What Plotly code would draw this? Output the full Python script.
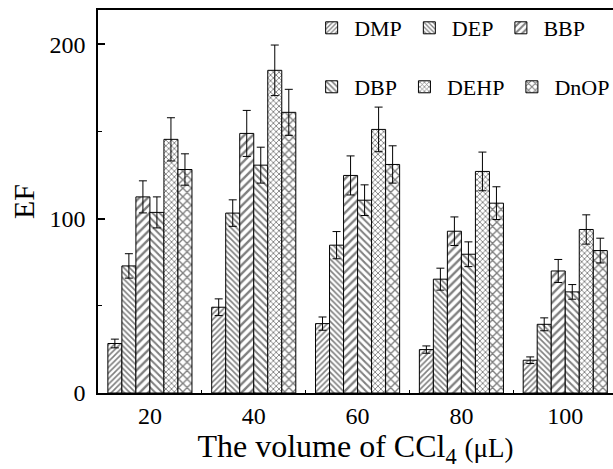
import plotly.graph_objects as go

categories = ["20", "40", "60", "80", "100"]
series_names = ["DMP", "DEP", "BBP", "DBP", "DEHP", "DnOP"]

dmp = [28.4, 49.2, 39.8, 24.9, 18.8]
dmp_err = [2.5, 4.8, 3.8, 2.1, 1.9]
dep = [72.9, 103.2, 84.8, 65.3, 39.4]
dep_err = [7.0, 7.6, 7.8, 6.3, 3.7]
bbp = [112.5, 148.9, 124.8, 92.8, 70.0]
bbp_err = [9.2, 13.2, 11.2, 8.2, 6.6]
dbp = [103.6, 130.7, 110.6, 79.6, 58.0]
dbp_err = [8.9, 10.3, 8.8, 7.1, 4.2]
dehp = [145.5, 185.1, 151.2, 127.1, 93.8]
dehp_err = [12.4, 14.5, 12.8, 11.1, 8.4]
dnop = [128.2, 161.0, 131.1, 108.9, 81.7]
dnop_err = [9.0, 13.2, 10.7, 9.4, 7.1]

y_ticks = [0, 100, 200]

values = [dmp, dep, bbp, dbp, dehp, dnop]
errors = [dmp_err, dep_err, bbp_err, dbp_err, dehp_err, dnop_err]
patterns = [("/", 4), ("\\", 4), ("/", 6), ("\\", 5), ("x", 4), ("x", 6)]
legend_ids = ["legend", "legend", "legend", "legend2", "legend2", "legend2"]

FONT = "Liberation Serif, Times New Roman, serif"

fig = go.Figure()
for name, v, e, (shape, size), lg in zip(series_names, values, errors, patterns, legend_ids):
    fig.add_trace(go.Bar(
        name=name, x=categories, y=v,
        marker=dict(color="white", line=dict(color="black", width=1),
                    pattern=dict(shape=shape, size=size, solidity=0.4,
                                 fgcolor="black", bgcolor="white", fillmode="overlay")),
        error_y=dict(type="data", array=e, symmetric=True, color="black",
                     thickness=1, width=4),
        legend=lg,
    ))

legend_common = dict(orientation="h", xanchor="left", yanchor="middle",
                     bgcolor="rgba(0,0,0,0)",
                     font=dict(family=FONT, size=22, color="black"),
                     itemwidth=35, tracegroupgap=0, traceorder="normal")

fig.update_layout(
    width=613, height=469,
    margin=dict(l=98, r=0, t=10, b=76, autoexpand=False),
    plot_bgcolor="white", paper_bgcolor="white",
    barmode="group", bargap=0.19, bargroupgap=0,
    font=dict(family=FONT, color="black"),
    legend=dict(x=0.41, y=0.953, **legend_common),
    legend2=dict(x=0.41, y=0.799, **legend_common),
    xaxis=dict(
        type="category", range=[-0.5, 4.46],
        showline=True, linecolor="black", linewidth=1.5, mirror=True,
        ticks="inside", ticklen=3, tickwidth=1, tickcolor="black",
        tickson="boundaries", showgrid=False,
        tickfont=dict(family=FONT, size=24, color="black"),
        title=dict(text="The volume of CCl<sub>4</sub> <span style='font-size:27px'>(μL)</span>",
                   font=dict(family=FONT, size=32, color="black"), standoff=7),
    ),
    yaxis=dict(
        range=[0, 219.7], tickvals=y_ticks,
        showline=True, linecolor="black", linewidth=1.5, mirror=False,
        ticks="inside", ticklen=7, tickwidth=1.5, tickcolor="black",
        minor=dict(dtick=50, ticks="inside", ticklen=4, tickwidth=1, tickcolor="black", showgrid=False),
        showgrid=False, zeroline=False, ticklabelstandoff=6,
        tickfont=dict(family=FONT, size=24, color="black"),
        title=dict(text="EF", font=dict(family=FONT, size=30, color="black"), standoff=6),
    ),
)

fig.write_html("out.html")
